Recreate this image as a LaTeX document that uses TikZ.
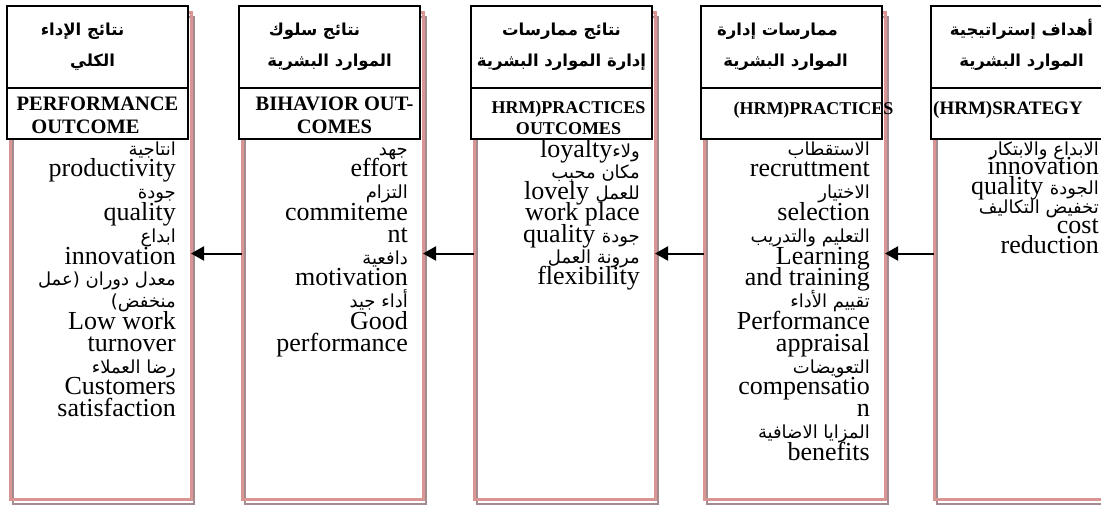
\documentclass[tikz,border=0pt]{standalone}
\usepackage{fontspec}
\setmainfont{Liberation Serif}
\newfontfamily\arfont[Script=Arabic]{DejaVu Sans}
\TeXXeTstate=1
\usetikzlibrary{arrows.meta}
% small Arabic item inside an English list
\newcommand\artxt[1]{{\arfont\fontsize{18}{21.8}\selectfont\beginR #1\endR}}
% one right-to-left line of a title
\newcommand\arline[1]{\beginR #1\endR}
% lines keep their fixed baseline distance even when they overlap
\newcommand\tightlines{\lineskiplimit=-100pt\relax\lineskip=0pt\relax}
\definecolor{framepink}{RGB}{217,149,148}
\definecolor{framegray}{RGB}{163,140,144}
\begin{document}
\begin{tikzpicture}[x=1pt,y=-1pt,
  colframe/.style={draw=framepink,line width=3pt,minimum width=181pt,minimum height=487pt,inner sep=0pt,outer sep=0pt},
  colshadow/.style={draw=framegray,line width=1.6pt,minimum width=181pt,minimum height=487pt,inner sep=0pt,outer sep=0pt},
  titlebox/.style={draw=black,fill=white,line width=2pt,minimum width=181pt,minimum height=82pt,inner sep=0pt,outer sep=0pt},
  labelbox/.style={titlebox,minimum height=51pt},
  artitle/.style={anchor=base,align=center,inner sep=0pt,font=\arfont\bfseries\fontsize{16.5}{31}\selectfont\tightlines},
  entitle/.style={anchor=base,align=center,inner sep=0pt,font=\bfseries\fontsize{20.5}{23}\selectfont\tightlines},
  body/.style={anchor=base east,align=right,inner sep=0pt,font=\fontsize{26}{21.8}\selectfont\tightlines},
  flow/.style={-{Triangle[length=13pt,width=14pt]},line width=2pt},
]
\path[use as bounding box,clip] (0,0) rectangle (1101,506);

% shadow lines and pink column frames
\foreach \cx [count=\i] in {100.5,332.5,564.5,794.5,1024.5}{
  \node[colshadow] (s\i) at (\cx+3,260.5) {};
  \node[colframe] (f\i) at (\cx,255.5) {};
}

% column lists (each node is placed by the baseline of its last line)
\node[body] (b1) at (176,416.6) {\artxt{انتاجية}\\
productivity\\
\artxt{جودة}\\
quality\\
\artxt{ابداع}\\
innovation\\
\artxt{معدل دوران (عمل}\\
\artxt{منخفض)}\\
Low work\\
turnover\\
\artxt{رضا العملاء}\\
Customers\\
satisfaction};

\node[body] (b2) at (408,351.2) {\artxt{جهد}\\
effort\\
\artxt{التزام}\\
commiteme\\
nt\\
\artxt{دافعية}\\
motivation\\
\artxt{أداء جيد}\\
Good\\
performance};

\node[body,font=\fontsize{26}{21.3}\selectfont\tightlines] (b3) at (640,284.8) {loyalty\artxt{ولاء}\\
\artxt{مكان محبب}\\
lovely \artxt{للعمل}\\
work place\\
quality \artxt{جودة}\\
\artxt{مرونة العمل}\\
flexibility};

\node[body] (b4) at (870,460.2) {\artxt{الاستقطاب}\\
recruttment\\
\artxt{الاختيار}\\
selection\\
\artxt{التعليم والتدريب}\\
Learning\\
and training\\
\artxt{تقييم الأداء}\\
Performance\\
appraisal\hspace*{5pt}\\
\artxt{التعويضات}\\
compensatio\\
n\\
\artxt{المزايا الاضافية}\\
benefits};

\node[body,font=\fontsize{26}{19.6}\selectfont\tightlines] (b5) at (1099,253) {\artxt{الابداع والابتكار}\\
innovation\hspace*{8pt}\\
quality \artxt{الجودة}\\
\artxt{تخفيض التكاليف}\\
cost\\
reduction};

% title boxes
\foreach \cx [count=\i] in {100.5,332.5,564.5,794.5,1024.5}{
  \node[titlebox] (ta\i) at (\cx-3,47) {};
  \node[labelbox] (te\i) at (\cx-3,113.5) {};
}

% Arabic titles
\node[artitle] (at1) at (97.5,66) {\arline{نتائج الإداء}\hspace*{30pt}\\\arline{الكلي}\hspace*{10pt}};
\node[artitle] (at2) at (329.5,66) {\arline{نتائج سلوك}\hspace*{30pt}\\\arline{الموارد البشرية}};
\node[artitle] (at3) at (561.5,66) {\arline{نتائج ممارسات}\\\arline{إدارة الموارد البشرية}};
\node[artitle] (at4) at (791.5,66) {\arline{ممارسات إدارة}\hspace*{28pt}\\\arline{الموارد البشرية}\hspace*{12pt}};
\node[artitle] (at5) at (1021.5,66) {\arline{أهداف إستراتيجية}\\\arline{الموارد البشرية}};

% English titles
\node[entitle] (et1) at (97.5,133) {PERFORMANCE\\OUTCOME\hspace*{24pt}};
\node[entitle] (et2) at (334.5,133) {BIHAVIOR OUT-\\COMES};
\node[entitle,font=\bfseries\fontsize{18}{21}\selectfont\tightlines] (et3) at (568.5,134) {HRM)PRACTICES\\OUTCOMES};
\node[entitle,font=\bfseries\fontsize{18}{21}\selectfont\tightlines] (et4) at (813.5,114) {(HRM)PRACTICES};
\node[entitle,anchor=base west,font=\bfseries\fontsize{19}{21}\selectfont\tightlines] (et5) at (933,114) {(HRM)SRATEGY};

% flow from each stage to the one on its left
\draw[flow] ([yshift=2pt]f2.west) -- ([yshift=2pt]f1.east);
\draw[flow] ([yshift=2pt]f3.west) -- ([yshift=2pt]f2.east);
\draw[flow] ([yshift=2pt]f4.west) -- ([yshift=2pt]f3.east);
\draw[flow] ([yshift=2pt]f5.west) -- ([yshift=2pt]f4.east);
\end{tikzpicture}
\end{document}
